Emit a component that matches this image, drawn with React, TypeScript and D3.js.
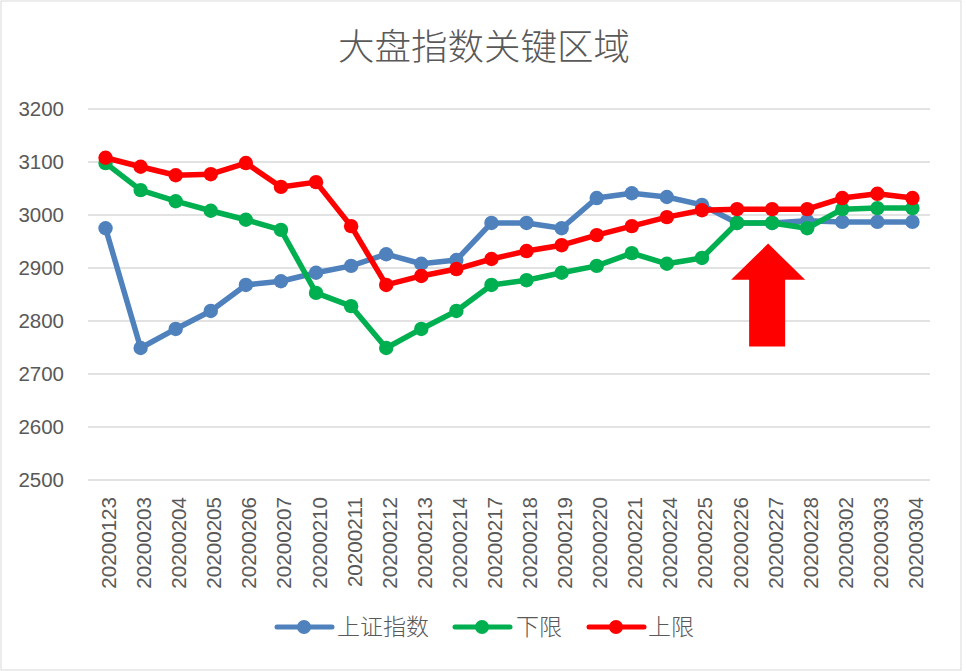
import React from "react";
import * as d3 from "d3";

const categories = ["20200123","20200203","20200204","20200205","20200206","20200207","20200210","20200211","20200212","20200213","20200214","20200217","20200218","20200219","20200220","20200221","20200224","20200225","20200226","20200227","20200228","20200302","20200303","20200304"];
const shIndex = [2975,2749,2785,2819,2868,2875,2891,2904,2926,2908,2915,2985,2985,2975,3032,3041,3034,3019,2985,2985,2989,2987,2987,2987];
const lowerBound = [3098,3047,3026,3008,2991,2972,2853,2828,2749,2785,2819,2868,2877,2891,2904,2928,2908,2919,2985,2985,2975,3011,3013,3013];
const upperBound = [3108,3091,3075,3077,3098,3053,3062,2979,2868,2885,2898,2917,2932,2943,2962,2979,2996,3009,3011,3011,3011,3032,3040,3032];
const yTicks = [2500,2600,2700,2800,2900,3000,3100,3200];
const seriesNames = ["上证指数","下限","上限"];
const seriesColors = ["#4F81BD","#00B050","#FF0000"];
const title = "大盘指数关键区域";

const W = 966, H = 671;
const CJK = "'Noto Sans CJK SC', sans-serif";
const NUM = "'Liberation Sans', Arial, sans-serif";

export default function App() {
  const x = d3.scaleBand<string>().domain(categories).range([88, 930]);
  const y = d3.scaleLinear().domain([2500, 3200]).range([480, 109]);
  const cx = (c: string) => (x(c) as number) + x.bandwidth() / 2;
  const series = [shIndex, lowerBound, upperBound];
  const line = d3.line<number>().x((_, i) => cx(categories[i])).y((v) => y(v));

  // arrow annotation anchored to category 20200227
  const ac = cx("20200227") - 4;
  const tipY = y(2946), headY = y(2878), botY = y(2752);
  const arrow = `M${ac},${tipY} L${ac + 37},${headY} L${ac + 17},${headY} L${ac + 17},${botY} L${ac - 19},${botY} L${ac - 19},${headY} L${ac - 37},${headY} Z`;

  const legendItems = [
    { lx: 277, tx: 337 },
    { lx: 455, tx: 516 },
    { lx: 589, tx: 648 },
  ];

  return (
    <svg width={W} height={H} style={{ position: "absolute", left: 0, top: 0, background: "#fff" }}>
      <rect x={1} y={1} width={W - 6} height={H - 2} fill="#fff" stroke="#D9D9D9" strokeWidth={1} />
      <text x={484} y={60} textAnchor="middle" fontSize={36.5} fontWeight={300} fill="#595959" fontFamily={CJK}>{title}</text>
      {yTicks.map((t) => (
        <g key={t}>
          <line x1={88} x2={930} y1={y(t)} y2={y(t)} stroke="#D9D9D9" strokeWidth={1.3} />
          <text x={64} y={y(t)} dy="0.36em" textAnchor="end" fontSize={20.5} fill="#595959" fontFamily={NUM}>{t}</text>
        </g>
      ))}
      {categories.map((c) => (
        <text key={c} transform={`translate(${cx(c) + 10.5},${497}) rotate(-90)`} textAnchor="end" fontSize={20.6} fill="#595959" fontFamily={NUM}>{c}</text>
      ))}
      {series.map((s, si) => (
        <g key={si}>
          <path d={line(s) || ""} fill="none" stroke={seriesColors[si]} strokeWidth={5.5} strokeLinejoin="round" strokeLinecap="round" />
          {s.map((v, i) => (
            <circle key={i} cx={cx(categories[i])} cy={y(v)} r={7.2} fill={seriesColors[si]} />
          ))}
        </g>
      ))}
      <path d={arrow} fill="#FF0000" />
      {legendItems.map((l, i) => (
        <g key={i}>
          <line x1={l.lx} x2={l.lx + 55} y1={627} y2={627} stroke={seriesColors[i]} strokeWidth={5} strokeLinecap="round" />
          <circle cx={l.lx + 27} cy={627} r={7} fill={seriesColors[i]} />
          <text x={l.tx} y={627} dy="0.36em" fontSize={23} fontWeight={300} fill="#595959" fontFamily={CJK}>{seriesNames[i]}</text>
        </g>
      ))}
    </svg>
  );
}
